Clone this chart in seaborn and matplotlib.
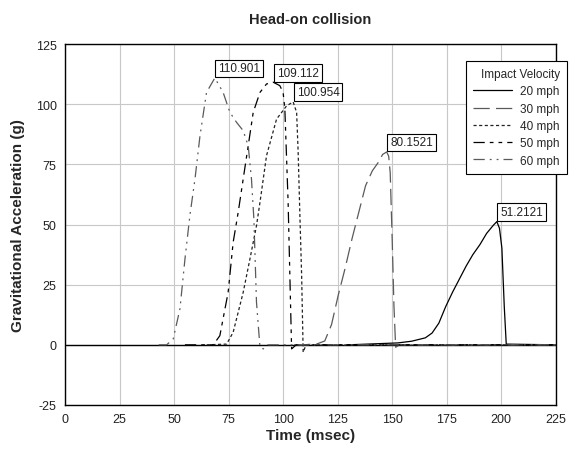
import pandas as pd
import matplotlib
matplotlib.use("Agg")
import matplotlib.pyplot as plt
import seaborn as sns

# Dados (tempo em ms, aceleração em g)
t_20 = [130, 152.7, 158.9, 165.2, 168.3, 171.4, 174.5, 177.7, 180.8, 183.9, 187.0,
        190.2, 193.3, 196.4, 198.0, 199.2, 200.3, 201.4, 202.3, 225]
g_20 = [0, 0.8, 1.5, 2.9, 4.9, 9.0, 15.8, 21.9, 27.3, 32.7, 37.5,
        41.6, 46.3, 49.7, 51.2121, 48.4, 40.2, 15.8, 0.3, 0]

t_30 = [105, 109.7, 115.9, 119.1, 122.2, 125.3, 128.4, 131.6, 134.7, 137.8, 140.9,
        144.1, 145.6, 147.5, 148.4, 149.1, 150.0, 150.8, 151.6, 153.4, 225]
g_30 = [0, 0, 0.5, 1.6, 8.4, 20.7, 31.7, 44.1, 55.1, 66.1, 72.3,
        76.4, 79.1, 80.1521, 78.4, 71.6, 44.1, 16.6, -1, 0, 0]

t_40 = [65, 74.1, 77.1, 81.7, 84.8, 87.8, 89.4, 92.4, 97.0, 101.6, 104.6,
        106.2, 106.9, 107.7, 108.5, 109.2, 110.5, 225]
g_40 = [0, 0.3, 5.2, 21.8, 35.7, 49.5, 59.2, 78.6, 93.8, 99.3, 100.954,
        96.6, 80, 53.6, 28.7, -3.1, 0, 0]

t_50 = [55, 68, 71.0, 74.8, 77.1, 79.4, 81.7, 84.0, 86.3, 89.4, 92.4,
        95.5, 98.5, 100.0, 100.8, 102.3, 103.1, 103.9, 106, 225]
g_50 = [0, 0, 3.8, 21.8, 42.6, 55, 68.9, 82.7, 96.6, 104.9, 108.4,
        109.112, 107.7, 104.9, 98, 59.2, 28.7, -1.7, 0, 0]

t_60 = [43, 46.6, 49.6, 52.7, 55.0, 57.3, 59.6, 61.9, 64.9, 68.7, 72.5,
        75.6, 78.7, 81.7, 84.0, 85.5, 86.6, 87.8, 89.4, 90.9, 93, 225]
g_60 = [0, 0, 2.4, 14.9, 35.6, 54, 68.9, 86.9, 104.9, 110.901, 104.9,
        96.6, 92.4, 89.0, 82.7, 68.9, 52.3, 17.7, -1, -1.7, 0, 0]

velocidades = ['20 mph', '30 mph', '40 mph', '50 mph', '60 mph']
tempos = [t_20, t_30, t_40, t_50, t_60]
aceleracoes = [g_20, g_30, g_40, g_50, g_60]

cores = ['black', '#5a5a5a', '#222222', 'black', '#5a5a5a']
estilos = ['-', (0, (13, 5)), (0, (2.5, 2)), (0, (9, 4, 3, 4, 3, 4)), (0, (9, 4, 1.5, 4, 1.5, 4))]

x_ticks = [0, 25, 50, 75, 100, 125, 150, 175, 200, 225]
y_ticks = [-25, 0, 25, 50, 75, 100, 125]

sns.set_style("whitegrid")
plt.rcParams['font.family'] = ['Liberation Sans', 'DejaVu Sans']
plt.rcParams['axes.unicode_minus'] = False

fig = plt.figure(figsize=(5.72, 4.52), dpi=100)
ax = fig.add_axes([0.1136, 0.1018, 0.858, 0.7986])

ax.axhline(0, color='black', lw=1.0, zorder=1)

for vel, t, g, cor, est in zip(velocidades, tempos, aceleracoes, cores, estilos):
    df = pd.DataFrame({'Tempo': t, 'Aceleracao': g})
    sns.lineplot(x='Tempo', y='Aceleracao', data=df, ax=ax, color=cor, linestyle=est,
                 lw=0.9, label=vel, sort=False, estimator=None)
    i = df['Aceleracao'].idxmax()
    ax.annotate(f"{df['Aceleracao'][i]:.6g}", xy=(df['Tempo'][i], df['Aceleracao'][i]),
                xytext=(2.5, 2.5), textcoords='offset points', ha='left', va='bottom',
                fontsize=8.5, color='#222222',
                bbox=dict(boxstyle='square,pad=0.25', fc='white', ec='black', lw=0.8))

ax.set_xlim(0, 225)
ax.set_ylim(-25, 125)
ax.set_xticks(x_ticks)
ax.set_yticks(y_ticks)
ax.grid(True, color='#c8c8c8', lw=0.8)
ax.tick_params(length=0, labelsize=9, labelcolor='#222222', pad=6)
for s in ax.spines.values():
    s.set_color('black')
    s.set_linewidth(1.0)

ax.set_title('Head-on collision', fontsize=10.5, fontweight='bold', pad=15)
ax.set_xlabel('Time (msec)', fontsize=11, fontweight='bold', labelpad=2)
ax.set_ylabel('Gravitational Acceleration (g)', fontsize=11, fontweight='bold', labelpad=8)

leg = ax.legend(title='Impact Velocity', loc='upper left', bbox_to_anchor=(0.815, 0.863),
                bbox_transform=fig.transFigure, fontsize=8.5, title_fontsize=8.5,
                frameon=True, fancybox=False, edgecolor='black', framealpha=1,
                handlelength=3.3, handletextpad=0.7, labelspacing=0.45, borderpad=0.6,
                borderaxespad=0, alignment='right')
leg.get_frame().set_linewidth(0.8)

fig.savefig('out.png', dpi=100)
